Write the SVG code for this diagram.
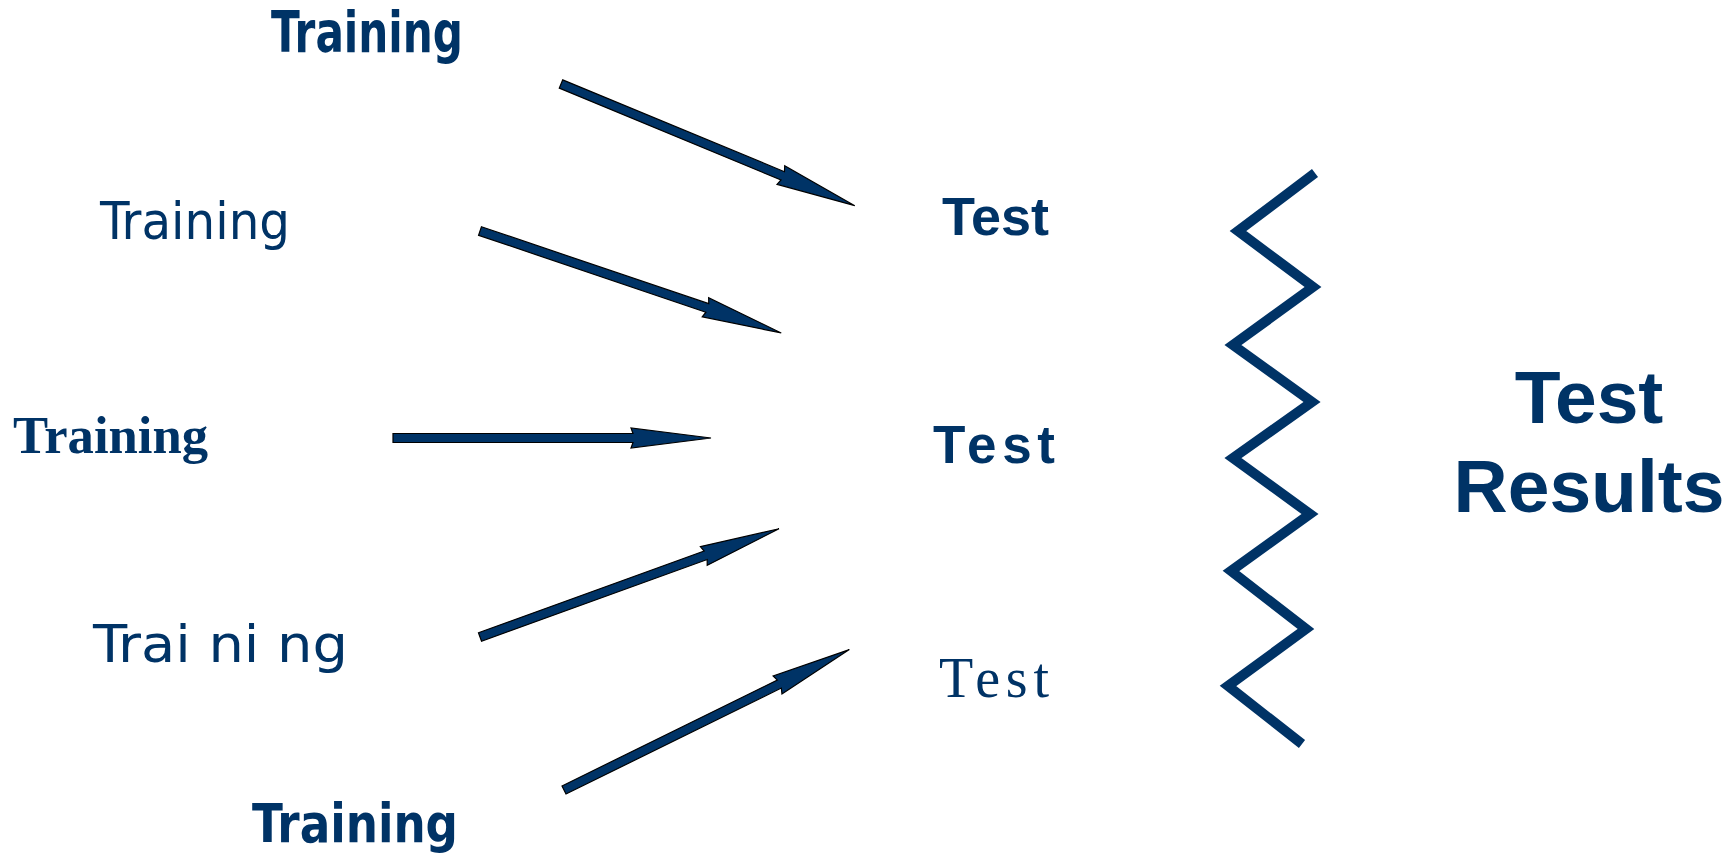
<svg xmlns="http://www.w3.org/2000/svg" xmlns:xlink="http://www.w3.org/1999/xlink" width="1736" height="857" viewBox="0 0 1736 857">
<style>
text{fill:#003366}
.comic{font-family:"Liberation Sans Narrow","DejaVu Sans Condensed","Liberation Sans",sans-serif;font-weight:bold}
.sans{font-family:"DejaVu Sans Condensed","Liberation Sans",sans-serif}
.serifb{font-family:"Liberation Serif",serif;font-weight:bold}
.serif{font-family:"Liberation Serif",serif}
.arial{font-family:"Liberation Sans",Arial,sans-serif;font-weight:bold}
.arrow{fill:#003366;stroke:#000;stroke-width:1.2;stroke-linejoin:miter}
.zig{fill:none;stroke:#003366;stroke-width:10;stroke-linejoin:miter;stroke-miterlimit:3}
</style>
<defs>
<path id="arr" d="M0,-4.5 L240,-4.5 L238,-10 L318,0 L238,10 L240,4.5 L0,4.5 Z"/>
</defs>
<rect width="1736" height="857" fill="#fff"/>
<g id="training1"><text class="comic" x="271" y="52" font-size="57" textLength="192" lengthAdjust="spacingAndGlyphs">Training</text></g>
<g id="training2"><text class="sans" x="100" y="239" font-size="51" textLength="190" lengthAdjust="spacingAndGlyphs">Training</text></g>
<g id="training3"><text class="serifb" x="13" y="453" font-size="52" textLength="195" lengthAdjust="spacingAndGlyphs">Training</text></g>
<g id="training4"><text class="sans" x="93" y="662" font-size="52" textLength="255" lengthAdjust="spacingAndGlyphs">Trai ni ng</text></g>
<g id="training5"><text class="comic" x="252" y="842" font-size="54" textLength="206" lengthAdjust="spacingAndGlyphs">Training</text></g>
<g id="test1"><text class="arial" x="942" y="235" font-size="53" textLength="107" lengthAdjust="spacingAndGlyphs">Test</text></g>
<g id="test2"><text class="arial" x="933" y="463" font-size="53" textLength="122" lengthAdjust="spacing">Test</text></g>
<g id="test3"><text class="serif" x="939" y="697" font-size="56" textLength="110" lengthAdjust="spacing">Test</text></g>
<g id="results"><text class="arial" text-anchor="middle" font-size="75"><tspan x="1589" y="423">Test</tspan><tspan x="1589" y="512">Results</tspan></text></g>
<g id="zigzag"><polyline class="zig" points="1315,173 1238,231 1313,287 1233,345 1312,402 1233,458 1310,514 1231,571 1306,629 1228,686 1302,744"/></g>
<g id="connectors">
<use xlink:href="#arr" class="arrow" transform="translate(561,84) rotate(22.5)"/>
<use xlink:href="#arr" class="arrow" transform="translate(480,231) rotate(18.7)"/>
<use xlink:href="#arr" class="arrow" transform="translate(393,438)"/>
<use xlink:href="#arr" class="arrow" transform="translate(480,637) rotate(-19.9)"/>
<use xlink:href="#arr" class="arrow" transform="translate(564,790) rotate(-26.2)"/>
</g>
</svg>
